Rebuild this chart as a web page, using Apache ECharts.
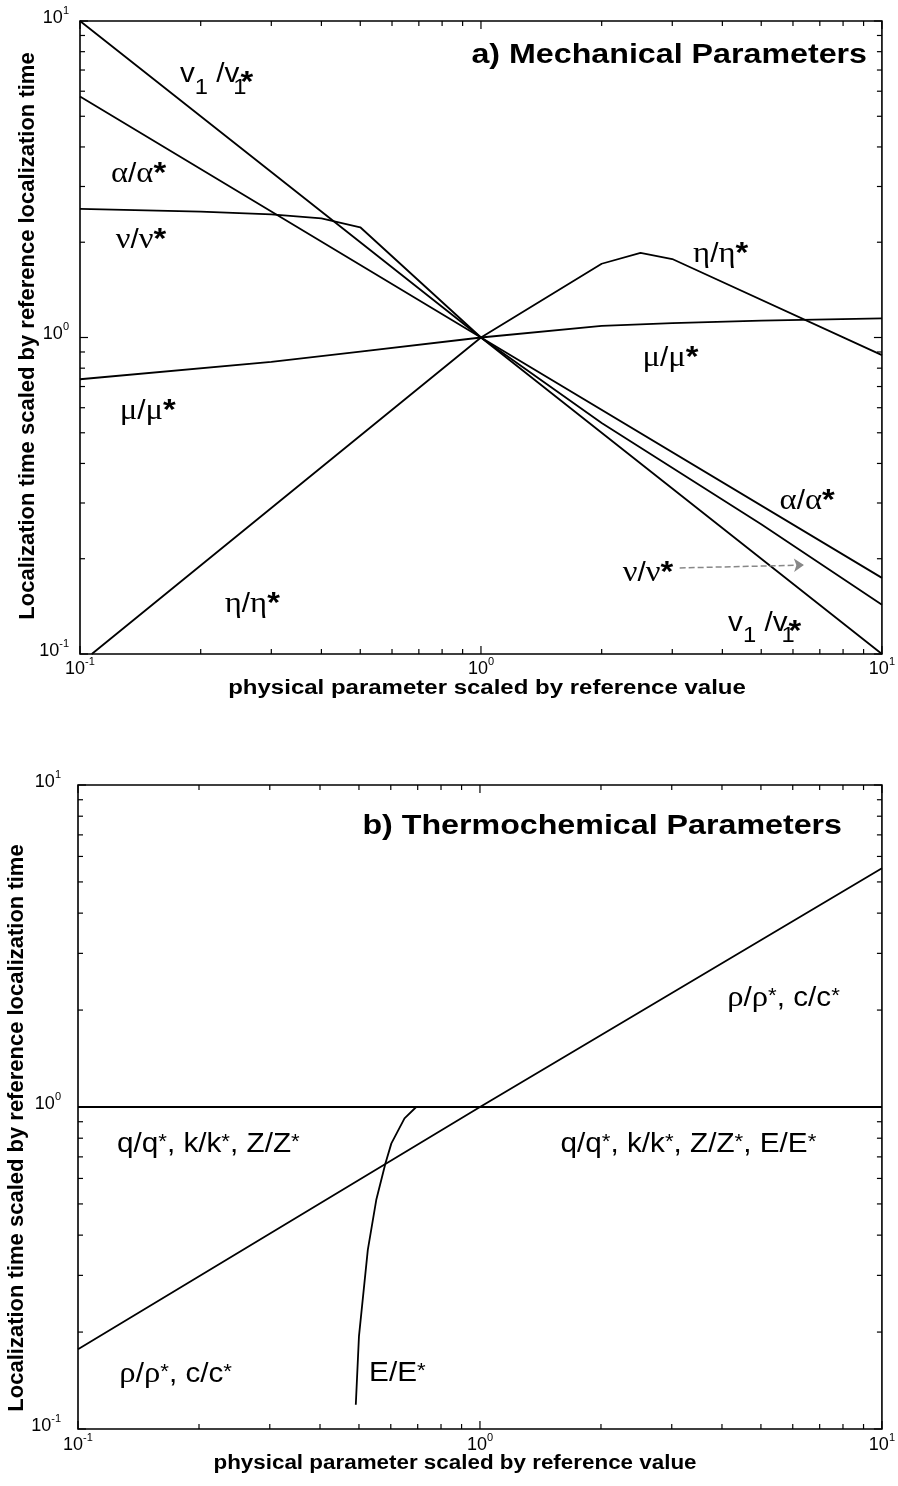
<!DOCTYPE html>
<html><head><meta charset="utf-8">
<script src="https://cdn.jsdelivr.net/npm/echarts@6/dist/echarts.min.js"></script>
<style>html,body{margin:0;padding:0;background:#fff}#c{width:898px;height:1486px}</style>
</head><body><div id="c"></div>
<script>
// ---------------- DATA ----------------
const tickValues = [0.1,0.2,0.3,0.4,0.5,0.6,0.7,0.8,0.9,1,2,3,4,5,6,7,8,9,10];
const decadeTicks = [0.1, 1, 10];

// a) Mechanical parameters
const v1X = [0.1, 1, 10];
const v1Y = [10, 1, 0.1];
const alphaX = [0.1, 1, 10];
const alphaY = [5.77, 1, 0.174];
const nuX = [0.1, 0.2, 0.3, 0.4, 0.5, 1, 2, 5, 10];
const nuY = [2.55, 2.50, 2.45, 2.38, 2.23, 1, 0.537, 0.257, 0.143];
const etaX = [0.107, 1, 2, 2.5, 3, 10];
const etaY = [0.1, 1, 1.71, 1.85, 1.77, 0.88];
const muX = [0.1, 0.3, 0.5, 1, 2, 3, 5, 10];
const muY = [0.738, 0.838, 0.903, 1, 1.088, 1.11, 1.13, 1.15];

// b) Thermochemical parameters
const qkzX = [0.1, 10];
const qkzY = [1, 1];
const rhoX = [0.1, 1, 10];
const rhoY = [0.177, 1, 5.51];
const eX = [0.491, 0.5, 0.526, 0.552, 0.582, 0.602, 0.649, 0.694, 10];
const eY = [0.119, 0.194, 0.36, 0.514, 0.669, 0.771, 0.922, 1, 1];

// ---------------- CHART ----------------
const SANS = 'Liberation Sans', SERIF = 'Liberation Serif';
const NARROW = '"Liberation Sans Narrow", "Liberation Sans", sans-serif';
const chart = echarts.init(document.getElementById('c'));
const pairs = (xs, ys) => xs.map((x, i) => [x, ys[i]]);

const axisRich = {
  b: {fontFamily: NARROW, fontSize: 18, lineHeight: 18, color: '#000', padding: [4, 0, 3, 0], verticalAlign: 'bottom'},
  s: {fontFamily: NARROW, fontSize: 11, lineHeight: 11, color: '#000', padding: [0, 0, 14, 0], verticalAlign: 'bottom'}
};
const fmt = v => {
  const e = Math.round(Math.log10(v));
  return '{b|10}{s|' + e + '}';
};

function ax(gi, margin) {
  return {gridIndex: gi, type: 'log', logBase: 10, min: 0.1, max: 10,
    axisLine: {show: false}, axisTick: {show: false}, splitLine: {show: false}, minorTick: {show: false},
    axisLabel: {margin: margin, fontSize: 18, fontFamily: NARROW, formatter: fmt, rich: axisRich, showMinLabel: true, showMaxLabel: true}};
}

function tickSeries(gi) {
  const data = tickValues.map(v => [v, 1, 0]).concat(tickValues.map(v => [1, v, 1]));
  return {
    type: 'custom', xAxisIndex: gi, yAxisIndex: gi, coordinateSystem: 'cartesian2d',
    silent: true, animation: false, z: 5, data: data, encode: {x: 0, y: 1},
    renderItem: function (params, api) {
      const kind = api.value(2);
      const v = kind === 0 ? api.value(0) : api.value(1);
      const lv = Math.log10(v);
      const major = Math.abs(lv - Math.round(lv)) < 1e-6;
      const len = major ? 8 : 5;
      const cs = params.coordSys;
      const st = {stroke: '#000', lineWidth: 1.2};
      if (kind === 0) {
        const px = api.coord([v, 1])[0];
        return {type: 'group', children: [
          {type: 'line', shape: {x1: px, y1: cs.y + cs.height, x2: px, y2: cs.y + cs.height - len}, style: st},
          {type: 'line', shape: {x1: px, y1: cs.y, x2: px, y2: cs.y + len}, style: st}
        ]};
      } else {
        const py = api.coord([1, v])[1];
        return {type: 'group', children: [
          {type: 'line', shape: {x1: cs.x, y1: py, x2: cs.x + len, y2: py}, style: st},
          {type: 'line', shape: {x1: cs.x + cs.width, y1: py, x2: cs.x + cs.width - len, y2: py}, style: st}
        ]};
      }
    }
  };
}

function line(gi, xs, ys, extra) {
  return Object.assign({type: 'line', xAxisIndex: gi, yAxisIndex: gi, data: pairs(xs, ys),
    symbol: 'none', showSymbol: false, silent: true, animation: false, z: 3,
    lineStyle: {color: '#000', width: 1.8}}, extra || {});
}

// annotation arrow (nu label -> nu curve), in data coords
const arrowFrom = [3.13, 0.187], arrowTo = [6.39, 0.191];

const option = {
  backgroundColor: '#fff',
  animation: false,
  grid: [
    {left: 80, top: 21, width: 805, height: 633, show: true, borderColor: '#000', borderWidth: 1.6},
    {left: 78, top: 785, width: 804, height: 644, show: true, borderColor: '#000', borderWidth: 1.6}
  ],
  xAxis: [ax(0, 9), ax(1, 10)],
  yAxis: [ax(0, 11), ax(1, 17)],
  series: [
    line(0, v1X, v1Y),
    line(0, alphaX, alphaY),
    line(0, nuX, nuY, {markLine: {silent: true, animation: false, symbol: ['none', 'arrow'], symbolSize: 10,
      label: {show: false}, lineStyle: {color: '#888', type: 'dashed', width: 1.5},
      data: [[{coord: arrowFrom}, {coord: arrowTo}]]}}),
    line(0, etaX, etaY),
    line(0, muX, muY),
    line(1, qkzX, qkzY),
    line(1, rhoX, rhoY),
    line(1, eX, eY),
    tickSeries(0),
    tickSeries(1)
  ]
};
chart.setOption(option);

// ---------------- LABELS ----------------
function rich(S) {
  const H = 1.8 * S, B = 1.15 * S;
  const tok = (fs, base, extra) => {
    const top = base - 0.85 * fs;
    return Object.assign({fontSize: fs, lineHeight: fs, fontFamily: SANS, color: '#000',
      padding: [top, 0, H - fs - top, 0], verticalAlign: 'top'}, extra || {});
  };
  return {
    t: tok(S, B),
    g: tok(1.1 * S, B, {fontFamily: SERIF}),
    st: tok(1.1 * S, B, {fontWeight: 'bold'}),
    st2: tok(0.75 * S, B - 0.15 * S),
    sub: tok(0.8 * S, B + 0.4 * S),
    subz: tok(0.8 * S, B + 0.4 * S, {width: 1, align: 'left'}),
    stlow: tok(1.1 * S, B + 0.33 * S, {fontWeight: 'bold'})
  };
}

const labels = [
  {g: 0, at: [0.219, 7.1], text: '{t|v}{sub|1}{t| /v}{subz|1}{stlow|*}'},
  {g: 0, at: [0.140, 3.43], text: '{g|α}{t|/}{g|α}{st|*}'},
  {g: 0, at: [0.142, 2.12], text: '{g|ν}{t|/}{g|ν}{st|*}'},
  {g: 0, at: [3.96, 1.92], text: '{g|η}{t|/}{g|η}{st|*}'},
  {g: 0, at: [2.97, 0.90], text: '{g|μ}{t|/}{g|μ}{st|*}'},
  {g: 0, at: [0.1476, 0.612], text: '{g|μ}{t|/}{g|μ}{st|*}'},
  {g: 0, at: [6.51, 0.318], text: '{g|α}{t|/}{g|α}{st|*}'},
  {g: 0, at: [2.61, 0.188], text: '{g|ν}{t|/}{g|ν}{st|*}'},
  {g: 0, at: [5.1, 0.131], text: '{t|v}{sub|1}{t| /v}{subz|1}{stlow|*}'},
  {g: 0, at: [0.269, 0.150], text: '{g|η}{t|/}{g|η}{st|*}'},
  {g: 1, at: [5.69, 2.28], text: '{g|ρ}{t|/}{g|ρ}{st2|*}{t|, c/c}{st2|*}'},
  {g: 1, at: [0.211, 0.813], text: '{t|q/q}{st2|*}{t|, k/k}{st2|*}{t|, Z/Z}{st2|*}'},
  {g: 1, at: [3.30, 0.813], text: '{t|q/q}{st2|*}{t|, k/k}{st2|*}{t|, Z/Z}{st2|*}{t|, E/E}{st2|*}'},
  {g: 1, at: [0.175, 0.1547], text: '{g|ρ}{t|/}{g|ρ}{st2|*}{t|, c/c}{st2|*}'},
  {g: 1, at: [0.623, 0.158], text: '{t|E/E}{st2|*}'}
];

const R = rich(27);
const graphics = labels.map(l => {
  const p = chart.convertToPixel({gridIndex: l.g}, l.at);
  return {type: 'text', x: p[0], y: p[1], scaleX: 1.1, silent: true,
    style: {text: l.text, rich: R, align: 'center', verticalAlign: 'middle', textAlign: 'center', textVerticalAlign: 'middle'}};
});

function txt(x, y, text, o) {
  return Object.assign({type: 'text', x: x, y: y, silent: true,
    style: Object.assign({text: text, fontFamily: SANS, fill: '#000', align: 'center', verticalAlign: 'middle',
      textAlign: 'center', textVerticalAlign: 'middle'}, o.style)}, o.el || {});
}
graphics.push(
  txt(867, 55, 'a) Mechanical Parameters', {style: {fontSize: 28, fontWeight: 'bold', align: 'right', textAlign: 'right'}, el: {scaleX: 1.15}}),
  txt(842, 826, 'b) Thermochemical Parameters', {style: {fontSize: 28, fontWeight: 'bold', align: 'right', textAlign: 'right'}, el: {scaleX: 1.15}}),
  txt(487, 688, 'physical parameter scaled by reference value', {style: {fontSize: 20, fontWeight: 'bold'}, el: {scaleX: 1.2}}),
  txt(455, 1463, 'physical parameter scaled by reference value', {style: {fontSize: 20, fontWeight: 'bold'}, el: {scaleX: 1.12}}),
  txt(28, 336, 'Localization time scaled by reference localization time', {style: {fontSize: 22, fontWeight: 'bold'}, el: {rotation: Math.PI / 2}}),
  txt(17, 1128, 'Localization time scaled by reference localization time', {style: {fontSize: 22, fontWeight: 'bold'}, el: {rotation: Math.PI / 2}})
);

chart.setOption({graphic: graphics});
</script>
</body></html>
